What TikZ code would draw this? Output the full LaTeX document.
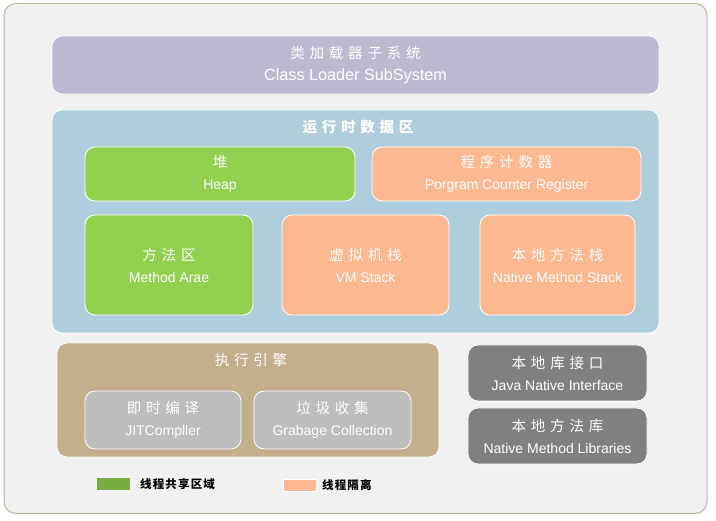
\documentclass[tikz,border=0pt]{standalone}
\usepackage{fontspec}
\setmainfont{Liberation Sans}
\newfontfamily\cjk{Noto Sans CJK SC}[LetterSpace=33]
\newfontfamily\cjkleg{Noto Sans CJK SC}[LetterSpace=10]
\definecolor{bgc}{HTML}{F1F1F1}
\definecolor{framec}{HTML}{BDB59E}
\definecolor{loaderc}{HTML}{BEB9D1}
\definecolor{runc}{HTML}{AECEDE}
\definecolor{greenc}{HTML}{92D150}
\definecolor{orangec}{HTML}{FCB890}
\definecolor{enginec}{HTML}{C4AF8C}
\definecolor{greyc}{HTML}{BDBDBD}
\definecolor{darkc}{HTML}{808080}
\definecolor{leggreen}{HTML}{76AC40}
\newcommand{\zhline}[1]{{\fontsize{14.5}{22}\selectfont\cjk #1}}
\begin{document}
\begin{tikzpicture}[x=1pt,y=-1pt,
  box/.style={draw=white, line width=0.8pt, rounded corners=10pt, inner sep=0pt, text=white, align=center, font=\fontsize{14}{22}\selectfont},
  title/.style={text=white, inner sep=0pt, font=\fontsize{14.5}{18}\selectfont},
  legbox/.style={inner sep=0pt, minimum width=33pt, minimum height=12pt},
  legtext/.style={anchor=west, inner sep=0pt, font=\fontsize{11.5}{13}\selectfont\bfseries}
]
\useasboundingbox (0,0) rectangle (716,521);
\node[fill=white, inner sep=0pt, minimum width=716pt, minimum height=521pt] (page) at (358,260.5) {};
\node[draw=framec, fill=bgc, line width=1pt, rounded corners=12pt, minimum width=703pt, minimum height=510pt, inner sep=0pt] (frame) at (355.5,258.5) {};

% class loader
\node[box, fill=loaderc, minimum width=607pt, minimum height=58pt, font=\fontsize{16.2}{22}\selectfont] (loader) at (355.5,65)
  {\zhline{类加载器子系统}\\Class Loader SubSystem};

% runtime data area
\node[box, fill=runc, minimum width=607pt, minimum height=223pt] (runtime) at (355.5,221.5) {};
\node[title] (runtitle) at (358,127) {\cjk\bfseries 运行时数据区};

\node[box, fill=greenc, minimum width=270pt, minimum height=54pt] (heap) at (220,174)
  {\zhline{堆}\\Heap};
\node[box, fill=orangec, minimum width=269pt, minimum height=54pt] (pc) at (506.5,174)
  {\zhline{程序计数器}\\Porgram Counter Register};
\node[box, fill=greenc, minimum width=168pt, minimum height=100pt] (method) at (169,265)
  {\zhline{方法区}\\Method Arae};
\node[box, fill=orangec, minimum width=167pt, minimum height=100pt] (vmstack) at (365.5,265)
  {\zhline{虚拟机栈}\\VM Stack};
\node[box, fill=orangec, minimum width=155pt, minimum height=100pt] (nstack) at (557.5,265)
  {\zhline{本地方法栈}\\Native Method Stack};

% execution engine
\node[box, fill=enginec, minimum width=382pt, minimum height=114pt] (engine) at (248,400) {};
\node[title] (enginetitle) at (251,360) {\cjk 执行引擎};
\node[box, fill=greyc, minimum width=156pt, minimum height=58pt] (jit) at (163,420)
  {\zhline{即时编译}\\JITCompller};
\node[box, fill=greyc, minimum width=157pt, minimum height=58pt] (gc) at (332.5,420)
  {\zhline{垃圾收集}\\Grabage Collection};

% native
\node[box, fill=darkc, minimum width=179pt, minimum height=56pt] (jni) at (557.5,373)
  {\zhline{本地库接口}\\Java Native Interface};
\node[box, fill=darkc, minimum width=179pt, minimum height=56pt] (nlib) at (557.5,436)
  {\zhline{本地方法库}\\Native Method Libraries};

% legend
\node[legbox, fill=leggreen] (lg1) at (113.5,484) {};
\node[legtext] (lt1) at (140,484.5) {\cjkleg 线程共享区域};
\node[legbox, fill=orangec, draw=white, line width=0.6pt] (lg2) at (299.5,485) {};
\node[legtext] (lt2) at (322,485.5) {\cjkleg 线程隔离};
\end{tikzpicture}
\end{document}
